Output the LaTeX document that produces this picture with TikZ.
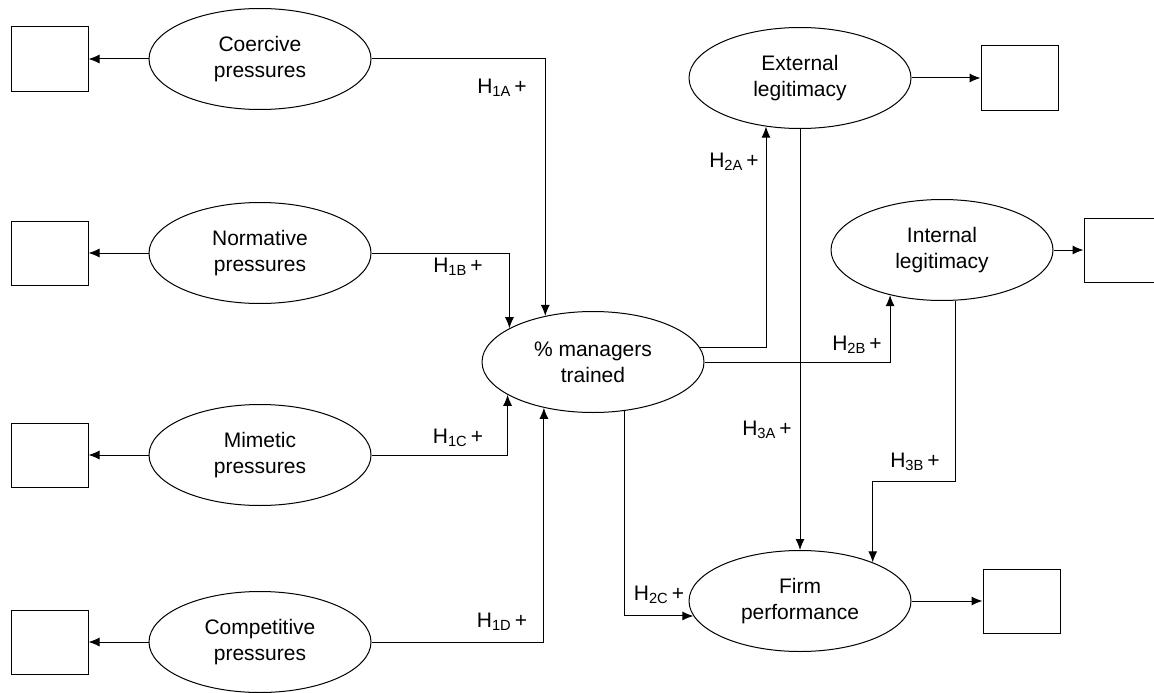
\documentclass[tikz,border=0pt]{standalone}
\usepackage{fontspec}
\setmainfont{Liberation Sans}
\usetikzlibrary{arrows.meta}
\usetikzlibrary{shapes.geometric}
\usetikzlibrary{positioning}
\tikzset{>={Latex[length=11pt,width=9pt]}}
\newcommand{\hyplabel}[1]{H\textsubscript{#1}\,+}

\begin{document}
\begin{tikzpicture}[x=1pt,y=-1pt,line width=1pt,font=\fontsize{21}{26}\selectfont,
  construct/.style={draw,ellipse,align=center,inner sep=0pt,minimum width=222pt,minimum height=101pt},
  indicator/.style={draw,rectangle,inner sep=0pt,minimum width=77pt,minimum height=64pt}]

\useasboundingbox (0,0) rectangle (1154,693);

% institutional pressures and their indicators
\node (coercive) [construct] at (260,59) {Coercive\\pressures};
\node (normative) [construct] at (260,253) {Normative\\pressures};
\node (mimetic) [construct] at (260,455) {Mimetic\\pressures};
\node (competitive) [construct] at (260,642) {Competitive\\pressures};
\node (coercivebox) [indicator,left=60pt of coercive] {};
\node (normativebox) [indicator,left=60pt of normative] {};
\node (mimeticbox) [indicator,left=60pt of mimetic] {};
\node (competitivebox) [indicator,left=60pt of competitive] {};
\foreach \x in {coercive, normative, mimetic, competitive} \draw [->] (\x) -- (\x box);

% training and outcomes
\node (trained) [construct] at (593,362) {\% managers\\trained};
\node (external) [construct] at (800,78) {External\\legitimacy};
\node (internal) [construct] at (942,250) {Internal\\legitimacy};
\node (firm) [construct] at (800,601) {Firm\\performance};
\node (externalbox) [indicator,right=69pt of external] {};
\node (internalbox) [indicator,minimum width=70pt,right=30pt of internal] {};
\node (firmbox) [indicator,right=71pt of firm] {};
\foreach \x in {external, internal, firm} \draw [->] (\x) -- (\x box);

% hypothesised paths
\draw [->] (coercive.east) -| (trained.136.5);
\draw [->] (normative.east) -| (trained.158.6);
\draw [->] (mimetic.east) -| (trained.201.4);
\draw [->] (competitive.east) -| (trained.223.5);
\draw [->] (trained.8) -| (external.235);
\draw [->] (trained.east) -| (internal.221);
\draw [->] (trained.303.5) |- (firm.188.6);
\draw [->] (external.south) -- (firm.north);
\draw [->] (internal.285) -- ++(0,181) -| (firm.28);

\node (h1a) at (502,88) {\hyplabel{1A}};
\node (h1b) at (458,267) {\hyplabel{1B}};
\node (h1c) at (458,438) {\hyplabel{1C}};
\node (h1d) at (502,622) {\hyplabel{1D}};
\node (h2a) at (734,162) {\hyplabel{2A}};
\node (h2b) at (857,345) {\hyplabel{2B}};
\node (h2c) at (659,595) {\hyplabel{2C}};
\node (h3a) at (767,430) {\hyplabel{3A}};
\node (h3b) at (915,462) {\hyplabel{3B}};

\end{tikzpicture}
\end{document}
